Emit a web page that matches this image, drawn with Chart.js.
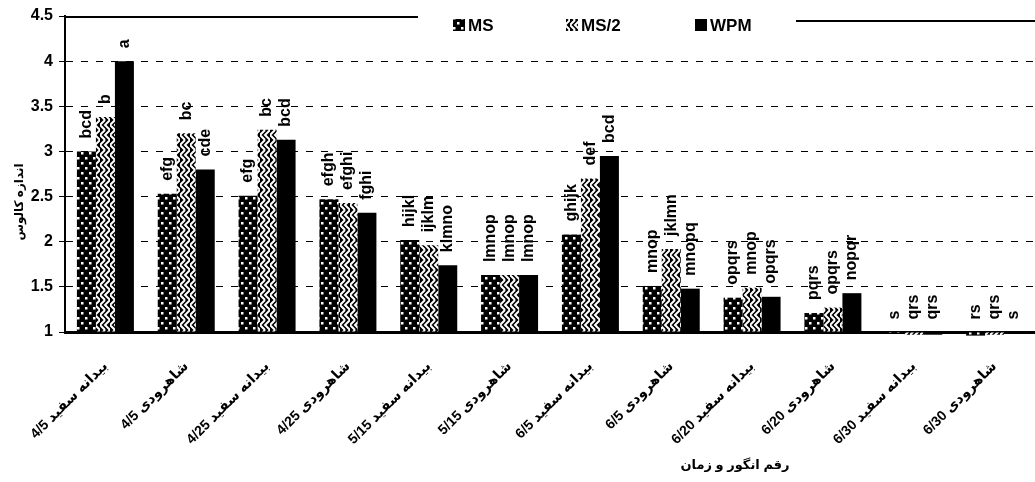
<!DOCTYPE html>
<html><head><meta charset="utf-8">
<script src="https://cdn.jsdelivr.net/npm/chart.js@4.4.0/dist/chart.umd.min.js"></script>
<style>html,body{margin:0;padding:0;background:#fff;}</style>
</head><body>
<canvas id="c" width="1035" height="482" style="display:block"></canvas>
<script>
// ---- data ----
const categories = ['بیدانه سفید 4/5','شاهرودی 4/5','بیدانه سفید 4/25','شاهرودی 4/25','بیدانه سفید 5/15','شاهرودی 5/15','بیدانه سفید 6/5','شاهرودی 6/5','بیدانه سفید 6/20','شاهرودی 6/20','بیدانه سفید 6/30','شاهرودی 6/30'];
const seriesNames = ['MS','MS/2','WPM'];
const msValues   = [3.00, 2.53, 2.51, 2.47, 2.02, 1.63, 2.08, 1.51, 1.38, 1.21, 0.99, 0.96];
const ms2Values  = [3.38, 3.20, 3.24, 2.43, 1.96, 1.63, 2.70, 1.92, 1.49, 1.27, 0.97, 0.97];
const wpmValues  = [4.00, 2.80, 3.13, 2.32, 1.74, 1.63, 2.95, 1.48, 1.39, 1.43, 0.97, 0.99];
const msLetters  = ['bcd','efg','efg','efgh','hijkl','lmnop','ghijk','mnop','opqrs','pqrs','s','rs'];
const ms2Letters = ['b','bc','bc','efghi','ijklm','lmnop','def','jklmn','mnop','opqrs','qrs','qrs'];
const wpmLetters = ['a','cde','bcd','fghi','klmno','lmnop','bcd','mnopq','opqrs','nopqr','qrs','s'];
const yTicks = [1, 1.5, 2, 2.5, 3, 3.5, 4, 4.5];
const yTitle = 'اندازه کالوس';
const xTitle = 'رقم انگور و زمان';

// ---- patterns ----
function makePattern(kind){
  const t = document.createElement('canvas');
  const g = t.getContext('2d');
  if (kind === 'dots'){
    t.width = 8; t.height = 10;
    g.fillStyle = '#000'; g.fillRect(0,0,8,10);
    g.fillStyle = '#fff';
    g.fillRect(1,2,2.5,2.5); g.fillRect(5,7,2.5,2.5);
  } else if (kind === 'zig'){
    t.width = 10; t.height = 10;
    g.fillStyle = '#000'; g.fillRect(0,0,10,10);
    g.strokeStyle = '#fff'; g.lineWidth = 2;
    g.beginPath();
    g.moveTo(5,0); g.lineTo(0,5); g.lineTo(5,10);
    g.moveTo(10,0); g.lineTo(5,5); g.lineTo(10,10);
    g.stroke();
  } else {
    t.width = 4; t.height = 4; g.fillStyle = '#000'; g.fillRect(0,0,4,4);
  }
  return document.getElementById('c').getContext('2d').createPattern(t,'repeat');
}
const fills = [makePattern('dots'), makePattern('zig'), '#000'];
const letters = [msLetters, ms2Letters, wpmLetters];

const FONT_FAMILY = "Arial, 'Liberation Sans', 'DejaVu Sans', sans-serif";

const plugins = [{
  id: 'bg',
  beforeDraw(chart){
    const c = chart.ctx; c.save(); c.fillStyle = '#fff'; c.fillRect(0,0,chart.width,chart.height); c.restore();
  }
},{
  id: 'letters',
  afterDatasetsDraw(chart){
    const c = chart.ctx;
    c.save();
    c.fillStyle = '#000';
    c.font = "bold 16px " + FONT_FAMILY;
    c.textAlign = 'left'; c.textBaseline = 'middle';
    chart.data.datasets.forEach((ds, di) => {
      const meta = chart.getDatasetMeta(di);
      meta.data.forEach((el, i) => {
        const top = Math.min(el.y, el.base);
        c.save();
        c.translate(el.x, top - 13);
        c.rotate(-Math.PI/2);
        c.fillText(letters[di][i], 0, 0);
        c.restore();
      });
    });
    c.restore();
  }
},{
  id: 'decor',
  afterDraw(chart){
    const c = chart.ctx;
    const a = chart.chartArea;
    const yTop = chart.scales.y.getPixelForValue(4.5);
    c.save();
    // top border, interrupted by legend
    c.strokeStyle = '#000'; c.lineWidth = 2;
    c.beginPath(); c.moveTo(a.left, yTop+1); c.lineTo(418, yTop+1); c.stroke();
    c.beginPath(); c.moveTo(796, yTop+5); c.lineTo(a.right, yTop+5); c.stroke();
    // legend
    c.font = "bold 17px " + FONT_FAMILY;
    c.textBaseline = 'middle'; c.textAlign = 'left';
    const starts = [453, 566, 695];
    seriesNames.forEach((n, i) => {
      const x = starts[i], y = 25;
      c.fillStyle = fills[i];
      c.fillRect(x, y-6, 12, 12);
      c.fillStyle = '#000';
      c.fillText(n, x + 15, y + 1);
    });
    // y title
    c.font = "bold 12px " + FONT_FAMILY;
    c.textAlign = 'center';
    c.save(); c.translate(20, 202); c.rotate(-Math.PI/2); c.fillText(yTitle, 0, 0); c.restore();
    // x title
    c.font = "bold 13px " + FONT_FAMILY;
    c.fillText(xTitle, 735, 465);
    c.restore();
  }
}];

new Chart(document.getElementById('c'), {
  type: 'bar',
  data: {
    labels: categories,
    datasets: seriesNames.map((n, i) => ({
      label: n,
      data: [msValues, ms2Values, wpmValues][i],
      backgroundColor: fills[i],
      borderWidth: 0,
      barPercentage: 1.0,
      categoryPercentage: 0.705,
      base: 1,
      clip: false
    }))
  },
  options: {
    responsive: false,
    animation: false,
    layout: { padding: { top: 16, right: 0, left: 0, bottom: 0 } },
    plugins: { legend: { display: false }, tooltip: { enabled: false } },
    scales: {
      x: {
        grid: { display: false, drawTicks: false },
        border: { display: true, color: '#000', width: 3 },
        ticks: {
          color: '#000', maxRotation: 45, minRotation: 45, padding: 26,
          font: { family: FONT_FAMILY, size: 14, weight: 'bold' }
        },
        afterFit(s){ s.height = 150; }
      },
      y: {
        min: 1, max: 4.5,
        afterBuildTicks(s){ s.ticks = yTicks.map(v => ({ value: v })); },
        grid: {
          color: ctx => (ctx.tick && (ctx.tick.value === 4.5 || ctx.tick.value === 1)) ? 'rgba(0,0,0,0)' : '#000',
          lineWidth: 1, tickColor: '#000', tickLength: 6, drawTicks: true
        },
        border: { display: true, color: '#000', width: 2, dash: [7, 8] },
        ticks: {
          color: '#000', padding: 6,
          callback: v => String(v),
          font: { family: FONT_FAMILY, size: 16, weight: 'bold' }
        },
        afterFit(s){ s.width = 65; }
      }
    }
  },
  plugins
});
</script>
</body></html>
